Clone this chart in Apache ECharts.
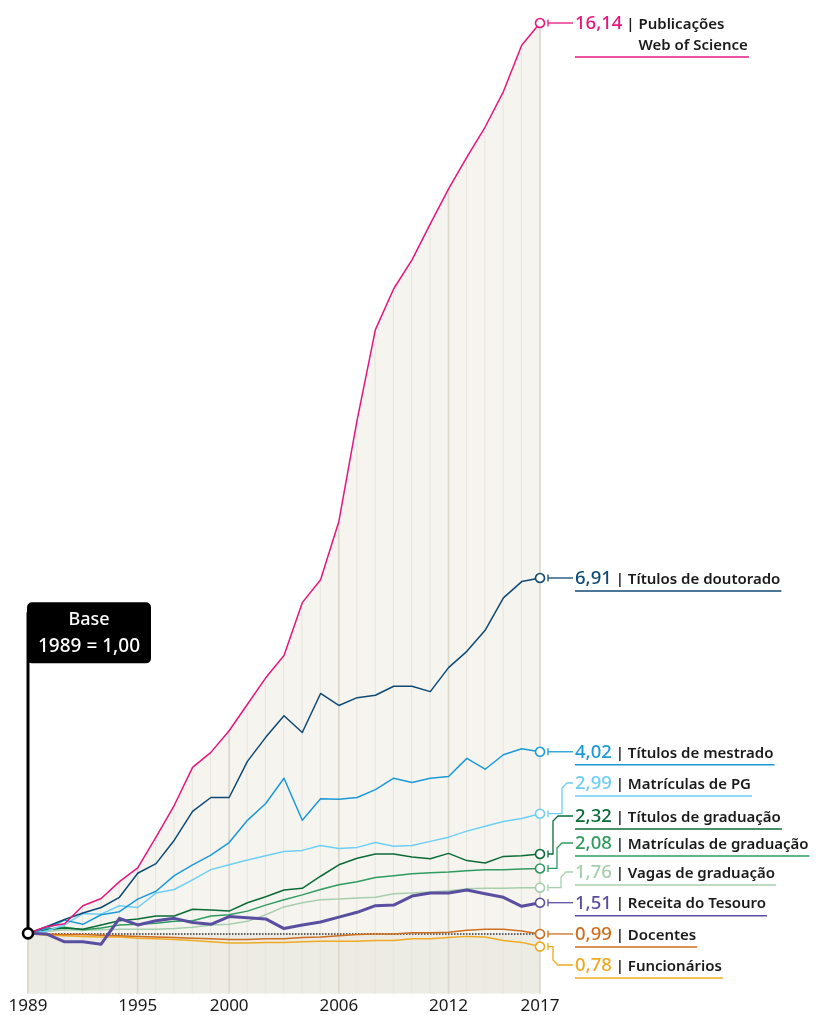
<!DOCTYPE html>
<html><head><meta charset="utf-8">
<script src="https://cdn.jsdelivr.net/npm/echarts@6/dist/echarts.min.js"></script>
<style>html,body{margin:0;padding:0;background:#fff;}#c{width:818px;height:1015px;}</style>
</head><body><div id="c"></div>
<script>
// ---------- DATA ----------
const years = ['1989','1990','1991','1992','1993','1994','1995','1996','1997','1998','1999','2000','2001','2002','2003','2004','2005','2006','2007','2008','2009','2010','2011','2012','2013','2014','2015','2016','2017'];
const tickYears = ['1989','1995','2000','2006','2012','2017'];

const publicacoes   = [1,1.11,1.16,1.46,1.58,1.86,2.09,2.60,3.13,3.76,4.01,4.37,4.81,5.25,5.62,6.50,6.88,7.85,9.54,11.04,11.72,12.20,12.80,13.38,13.91,14.41,15.00,15.77,16.14];
const doutorado     = [1,1.11,1.23,1.34,1.43,1.60,2.00,2.16,2.55,3.03,3.26,3.26,3.86,4.26,4.62,4.34,4.99,4.79,4.92,4.96,5.11,5.11,5.02,5.42,5.69,6.04,6.58,6.85,6.91];
const mestrado      = [1,1.08,1.22,1.15,1.31,1.36,1.57,1.70,1.96,2.14,2.30,2.51,2.88,3.16,3.58,2.88,3.24,3.23,3.26,3.39,3.58,3.51,3.58,3.61,3.91,3.73,3.97,4.07,4.02];
const matriculasPG  = [1,1.04,1.14,1.33,1.32,1.46,1.43,1.67,1.73,1.89,2.06,2.14,2.22,2.29,2.36,2.38,2.46,2.41,2.43,2.51,2.45,2.46,2.53,2.60,2.70,2.78,2.86,2.91,2.99];
const titulosGrad   = [1,1.06,1.09,1.07,1.14,1.21,1.24,1.29,1.29,1.40,1.39,1.37,1.51,1.61,1.72,1.75,1.95,2.14,2.25,2.32,2.32,2.27,2.24,2.33,2.21,2.17,2.28,2.29,2.32];
const matriculasGrad= [1,1.07,1.10,1.06,1.09,1.14,1.15,1.17,1.20,1.21,1.29,1.31,1.37,1.47,1.56,1.64,1.73,1.81,1.86,1.93,1.96,1.99,2.01,2.02,2.04,2.06,2.06,2.07,2.08];
const vagasGrad     = [1,1.03,1.06,1.05,1.06,1.07,1.07,1.07,1.08,1.10,1.14,1.15,1.20,1.31,1.44,1.51,1.56,1.57,1.59,1.60,1.66,1.67,1.69,1.71,1.74,1.75,1.75,1.76,1.76];
const receita       = [1,0.99,0.86,0.86,0.82,1.25,1.14,1.21,1.25,1.18,1.15,1.28,1.26,1.24,1.08,1.14,1.19,1.27,1.35,1.46,1.47,1.62,1.67,1.67,1.72,1.66,1.60,1.45,1.51];
const docentes      = [1,0.99,0.98,0.98,0.97,0.96,0.95,0.94,0.93,0.92,0.91,0.90,0.90,0.91,0.91,0.93,0.94,0.96,0.98,0.99,0.99,1.01,1.01,1.02,1.05,1.07,1.07,1.04,0.99];
const funcionarios  = [1,0.97,0.96,0.95,0.94,0.94,0.92,0.91,0.90,0.88,0.86,0.84,0.84,0.85,0.85,0.86,0.87,0.87,0.87,0.88,0.88,0.91,0.91,0.93,0.95,0.94,0.88,0.85,0.78];

const endValues = ['16,14','6,91','4,02','2,99','2,32','2,08','1,76','1,51','0,99','0,78'];
const seriesLabels = ['Publicações','Títulos de doutorado','Títulos de mestrado','Matrículas de PG','Títulos de graduação','Matrículas de graduação','Vagas de graduação','Receita do Tesouro','Docentes','Funcionários'];
const pubSecondLine = 'Web of Science';
const baseLine1 = 'Base';
const baseLine2 = '1989 = 1,00';

// ---------- STYLE / LAYOUT ----------
const FONT = '"Noto Sans", "DejaVu Sans", sans-serif';
const series = [
  {data: publicacoes,    color:'#e5177e', width:1.5, ly:22,  bend:null},
  {data: doutorado,      color:'#0e4a74', width:1.5, ly:577, bend:null},
  {data: mestrado,       color:'#1b9ad7', width:1.5, ly:751, bend:null},
  {data: matriculasPG,   color:'#6ecff5', width:1.5, ly:783, bend:562},
  {data: titulosGrad,    color:'#0b6b37', width:1.5, ly:816, bend:553},
  {data: matriculasGrad, color:'#2f9b5f', width:1.5, ly:843, bend:557},
  {data: vagasGrad,      color:'#a7cfae', width:1.5, ly:872, bend:561},
  {data: receita,        color:'#5a4ea1', width:3,   ly:902, bend:null},
  {data: docentes,       color:'#cf6e1e', width:1.5, ly:934, bend:null},
  {data: funcionarios,   color:'#efaa22', width:1.5, ly:965, bend:553}
];
const drawOrder = [9,8,6,5,4,3,2,1,7,0];
const lastIdx = years.length - 1;

const chart = echarts.init(document.getElementById('c'));

const optSeries = [];
optSeries.push({type:'line', data:publicacoes, z:1, silent:true, symbol:'none',
  lineStyle:{width:0, opacity:0}, areaStyle:{color:'#f5f4ef', origin:'start', opacity:1}});
optSeries.push({type:'line', data:[], z:2, silent:true,
  markArea:{z:2, silent:true, itemStyle:{color:'#ecebe4'},
    data:[[{xAxis:0, yAxis:0},{xAxis:lastIdx, yAxis:1}]]}});
optSeries.push({type:'bar', z:3, silent:true, barWidth:1, barGap:'-100%',
  data:publicacoes, itemStyle:{color:'#e7e5dc'}});
optSeries.push({type:'bar', z:3, silent:true, barWidth:1.6, barGap:'-100%',
  data:publicacoes.map((v,i)=> tickYears.includes(years[i]) ? v : '-'), itemStyle:{color:'#dbd8cd'}});
optSeries.push({type:'line', data:[], z:4, silent:true,
  markLine:{z:4, silent:true, symbol:'none', label:{show:false},
    lineStyle:{type:[1.5,1.5], color:'#333', width:1.5}, data:[{yAxis:1}]}});

drawOrder.forEach((k, n) => {
  const s = series[k];
  optSeries.push({type:'line', data:s.data, z:5 + n, silent:true,
    symbol:(v,p)=> p.dataIndex===lastIdx ? 'circle' : 'none',
    symbolSize:9, showSymbol:true, showAllSymbol:true,
    itemStyle:{color:'#fff', borderColor:s.color, borderWidth:1.6},
    lineStyle:{color:s.color, width:s.width, join:'round'},
    emphasis:{disabled:true}});
});

chart.setOption({
  animation:false,
  grid:{left:28, right:278, top:23, bottom:21.5, containLabel:false, outerBoundsMode:'none'},
  xAxis:{type:'category', data:years, boundaryGap:false,
    axisLine:{show:false}, axisTick:{show:false}, splitLine:{show:false},
    axisLabel:{interval:(i,v)=>tickYears.includes(v), color:'#1a1a1a', fontSize:17, fontFamily:FONT, margin:4}},
  yAxis:{type:'value', min:0, max:16.14, show:false, splitLine:{show:false}},
  series:optSeries
});

// ---------- annotations ----------
const ctx = document.createElement('canvas').getContext('2d');
function tw(text, size, weight){ ctx.font = `${weight} ${size}px ${FONT}`; return ctx.measureText(text).width; }

const g = [];
const base = chart.convertToPixel({gridIndex:0}, [0, 1]);
const boxTop = base[1] - 331;
g.push({type:'line', z:100, shape:{x1:base[0], y1:base[1], x2:base[0], y2:boxTop+10}, style:{stroke:'#000', lineWidth:3}});
g.push({type:'rect', z:100, shape:{x:base[0]-1, y:boxTop, width:124, height:61, r:5}, style:{fill:'#000'}});
g.push({type:'text', z:101, x:base[0]+61, y:boxTop+18, style:{text:baseLine1, fill:'#fff', font:`500 18px ${FONT}`, align:'center', verticalAlign:'middle'}});
g.push({type:'text', z:101, x:base[0]+61, y:boxTop+44, style:{text:baseLine2, fill:'#fff', font:`500 19px ${FONT}`, align:'center', verticalAlign:'middle'}});
g.push({type:'circle', z:102, shape:{cx:base[0], cy:base[1], r:5}, style:{fill:'#fff', stroke:'#000', lineWidth:2.6}});

const TX = 575, VS = 18.5, LS = 15, LW = 600;
series.forEach((s, k) => {
  const p = chart.convertToPixel({gridIndex:0}, [lastIdx, s.data[lastIdx]]);
  const x0 = p[0] + 8, y0 = p[1];
  const ly = s.bend === null ? y0 : s.ly;
  g.push({type:'line', z:100, shape:{x1:x0, y1:y0-3.5, x2:x0, y2:y0+3.5}, style:{stroke:s.color, lineWidth:1.3}});
  let pts;
  if (s.bend === null) pts = [[x0,y0],[TX-2,y0]];
  else {
    const sg = ly < y0 ? 1 : -1;
    pts = [[x0,y0],[s.bend,y0],[s.bend,ly+sg*5],[s.bend+5,ly],[TX-2,ly]];
  }
  g.push({type:'polyline', z:100, shape:{points:pts}, style:{stroke:s.color, lineWidth:1.3, fill:null}});
  const vw = tw(endValues[k], VS, 500);
  const sp = tw(' ', LS, LW);
  g.push({type:'text', z:101, x:TX, y:ly+1, style:{text:endValues[k], fill:s.color, font:`500 ${VS}px ${FONT}`, verticalAlign:'middle'}});
  const lx = TX + vw + sp;
  const ltxt = '| ' + seriesLabels[k];
  g.push({type:'text', z:101, x:lx, y:ly+1.5, style:{text:ltxt, fill:'#1a1a1a', font:`${LW} ${LS}px ${FONT}`, verticalAlign:'middle'}});
  let endX = lx + tw(ltxt, LS, LW);
  let uy = ly + 13;
  if (k === 0) {
    const lx2 = lx + tw('| ', LS, LW);
    g.push({type:'text', z:101, x:lx2, y:ly+23, style:{text:pubSecondLine, fill:'#1a1a1a', font:`${LW} ${LS}px ${FONT}`, verticalAlign:'middle'}});
    endX = Math.max(endX, lx2 + tw(pubSecondLine, LS, LW));
    uy = ly + 34;
  }
  g.push({type:'line', z:100, shape:{x1:TX, y1:uy, x2:endX+1, y2:uy}, style:{stroke:s.color, lineWidth:1.5}});
});
chart.setOption({graphic:{elements:g}});
</script></body></html>
